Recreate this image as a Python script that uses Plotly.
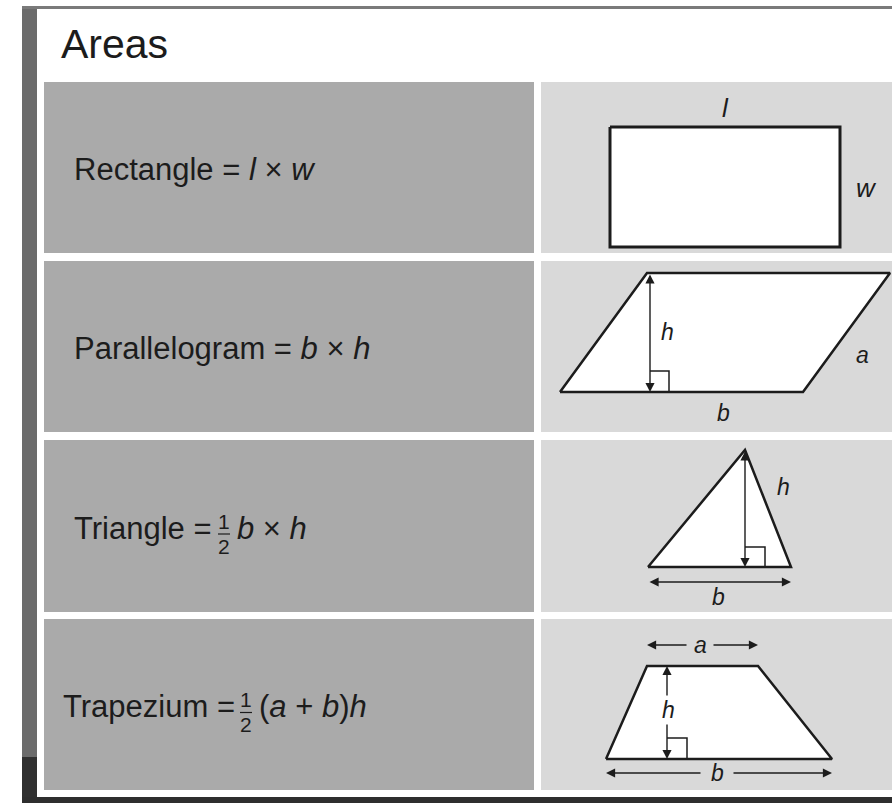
"""
Areas reference card: four plane figures with their area formulas.
"""
import plotly.graph_objects as go

W, H = 892, 803
FONT = "Liberation Sans, Arial, Helvetica, sans-serif"
INK = "#1c1c1c"

# ── content ──
TITLE = "Areas"
NAMES = ["Rectangle", "Parallelogram", "Triangle", "Trapezium"]
RHS = ["<i>l</i> × <i>w</i>", "<i>b</i> × <i>h</i>",
       "<i>b</i> × <i>h</i>", "(<i>a</i> + <i>b</i>)<i>h</i>"]
HALF = [False, False, True, True]

# figure outlines (page pixels, y pointing down)
RECT_X = [610, 840, 840, 610, 610]
RECT_Y = [127, 127, 247, 247, 127]
PARA_X = [560, 647, 890, 803, 560]
PARA_Y = [392, 273, 273, 392, 392]
TRI_X = [648, 745, 791, 648]
TRI_Y = [567, 450, 567, 567]
TRAP_X = [606, 647, 758, 832, 606]
TRAP_Y = [759, 666, 666, 759, 759]

# right-angle marks
RA_X = [[650, 669, 669], [745, 765, 765], [667, 687, 687]]
RA_Y = [[371, 371, 392], [547, 547, 567], [738, 738, 759]]

# measurement arrows: tail x, tail y, head x, head y, both ends
ARROWS = [
    (650, 273, 650, 392, True),
    (745, 450, 745, 567, True),
    (648, 582, 791, 582, True),
    (688, 645, 647, 645, False), (712, 645, 758, 645, False),
    (667, 697, 667, 666, False), (667, 723, 667, 759, False),
    (702, 773, 606, 773, False), (732, 773, 832, 773, False),
]

# dimension letters
LABELS = ["l", "w", "h", "a", "b", "h", "b", "a", "h", "b"]
LABEL_X = [725, 866, 667, 862, 723, 783, 718, 700, 668, 717]
LABEL_Y = [108, 188, 332, 355, 413, 487, 597, 645, 710, 773]
LABEL_SIZE = [26, 26, 23, 23, 23, 23, 23, 23, 23, 23]

# ── layout constants ──
ROW_TOP = [82, 261, 440, 619]
ROW_BOT = [253, 432, 612, 790]
TEXT_X = [72, 72, 72, 61]
FRAC_X = [None, None, 224, 246]
REST_X = [None, None, 235, 257]

fig = go.Figure()

shapes = [
    # photo edge around the card
    dict(type="rect", x0=22, x1=37, y0=6, y1=757, fillcolor="#6b6b6b", line_width=0),
    dict(type="rect", x0=22, x1=37, y0=757, y1=H, fillcolor="#303030", line_width=0),
    dict(type="rect", x0=22, x1=W, y0=6, y1=9, fillcolor="#7a7a7a", line_width=0),
    dict(type="rect", x0=22, x1=W, y0=797, y1=H, fillcolor="#2e2e2e", line_width=0),
]
for top, bot in zip(ROW_TOP, ROW_BOT):
    shapes.append(dict(type="rect", x0=44, x1=534, y0=top, y1=bot,
                       fillcolor="#aaaaaa", line_width=0, layer="below"))
    shapes.append(dict(type="rect", x0=541, x1=W, y0=top, y1=bot,
                       fillcolor="#d9d9d9", line_width=0, layer="below"))

annotations = [dict(x=59, y=44, text=TITLE, xanchor="left", yanchor="middle",
                    font=dict(size=41, color=INK), showarrow=False)]

# formulas
for i, name in enumerate(NAMES):
    cy = (ROW_TOP[i] + ROW_BOT[i]) / 2 + 2
    if not HALF[i]:
        annotations.append(dict(x=TEXT_X[i], y=cy, text=f"{name} = {RHS[i]}",
                                xanchor="left", yanchor="middle",
                                font=dict(size=31, color=INK), showarrow=False))
        continue
    annotations.append(dict(x=TEXT_X[i], y=cy, text=f"{name} =",
                            xanchor="left", yanchor="middle",
                            font=dict(size=31, color=INK), showarrow=False))
    annotations.append(dict(x=FRAC_X[i], y=cy - 7, text="1", xanchor="center",
                            yanchor="middle", font=dict(size=21, color=INK),
                            showarrow=False))
    annotations.append(dict(x=FRAC_X[i], y=cy + 18, text="2", xanchor="center",
                            yanchor="middle", font=dict(size=21, color=INK),
                            showarrow=False))
    shapes.append(dict(type="line", x0=FRAC_X[i] - 6, x1=FRAC_X[i] + 6,
                       y0=cy + 6, y1=cy + 6, line=dict(color=INK, width=1.2)))
    annotations.append(dict(x=REST_X[i], y=cy, text=RHS[i], xanchor="left",
                            yanchor="middle", font=dict(size=31, color=INK),
                            showarrow=False))

# figures
for xs, ys, w in [(RECT_X, RECT_Y, 3), (PARA_X, PARA_Y, 2.5),
                  (TRI_X, TRI_Y, 2.5), (TRAP_X, TRAP_Y, 2.5)]:
    fig.add_trace(go.Scatter(x=xs, y=ys, mode="lines", fill="toself",
                             fillcolor="white", line=dict(color=INK, width=w),
                             hoverinfo="skip"))
for xs, ys in zip(RA_X, RA_Y):
    fig.add_trace(go.Scatter(x=xs, y=ys, mode="lines",
                             line=dict(color=INK, width=1.5), hoverinfo="skip"))

for x0, y0, x1, y1, both in ARROWS:
    annotations.append(dict(x=x1, y=y1, ax=x0, ay=y0, xref="x", yref="y",
                            axref="x", ayref="y", text="", showarrow=True,
                            arrowhead=2, arrowsize=1.3, arrowwidth=1.4,
                            arrowcolor=INK, standoff=0, startstandoff=0,
                            arrowside="end+start" if both else "end",
                            startarrowhead=2, startarrowsize=1.3))

for t, x, y, s in zip(LABELS, LABEL_X, LABEL_Y, LABEL_SIZE):
    annotations.append(dict(x=x, y=y, text=f"<i>{t}</i>", xanchor="center",
                            yanchor="middle", font=dict(size=s, color=INK),
                            showarrow=False))

fig.update_layout(
    width=W, height=H,
    margin=dict(l=0, r=0, t=0, b=0),
    paper_bgcolor="white", plot_bgcolor="white",
    font=dict(family=FONT, color=INK),
    showlegend=False, hovermode=False,
    xaxis=dict(range=[0, W], visible=False, fixedrange=True),
    yaxis=dict(range=[H, 0], visible=False, fixedrange=True),
    shapes=shapes, annotations=annotations,
)

fig.write_html("out.html", config={"displayModeBar": False, "staticPlot": True},
               post_script="document.body.style.margin='0';"
                           "document.body.style.overflow='hidden';")
